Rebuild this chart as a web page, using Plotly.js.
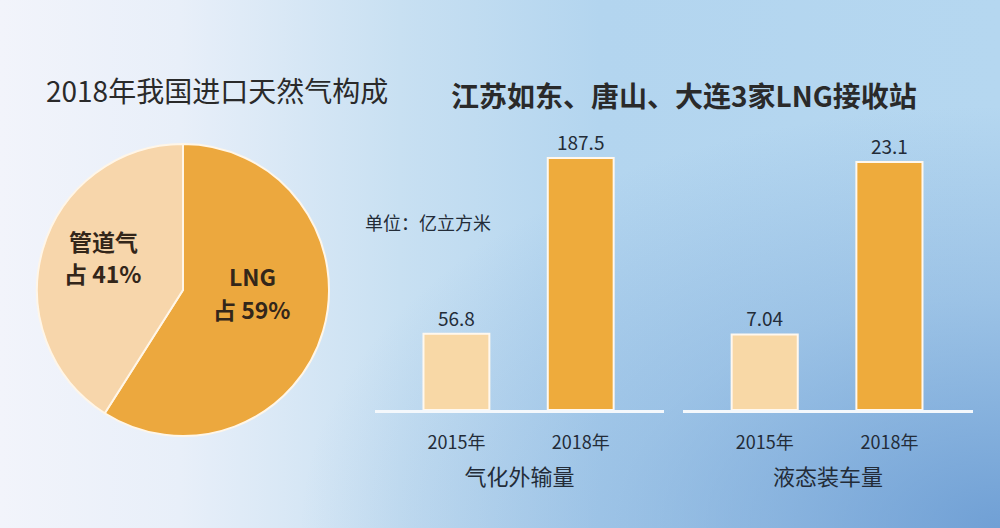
<!DOCTYPE html>
<html>
<head>
<meta charset="utf-8">
<script src="https://cdn.plot.ly/plotly-3.0.1.min.js"></script>
<style>
html,body{margin:0;padding:0;}
body{width:1000px;height:528px;overflow:hidden;
background:
 radial-gradient(ellipse 70% 80% at 100% 100%, rgba(100,150,208,0.85) 0%, rgba(110,158,212,0.35) 55%, rgba(120,165,215,0) 100%),
 linear-gradient(to right, #f2f4fb 0%, #e8eff9 18%, #c8e0f2 40%, #b3d5ef 60%, #b5d7f0 100%);}
#chart{width:1000px;height:528px;}
</style>
</head>
<body>
<div id="chart"></div>
<script>
const pieLabels = ["LNG", "管道气"];
const pieValues = [59, 41];
const pieColors = ["#eca83e", "#f7d6ab"];

const years = ["2015年", "2018年"];
const gasOut = [56.8, 187.5];       // 气化外输量
const liquidLoad = [7.04, 23.1];    // 液态装车量
const barColors = ["#f8d8a6", "#eeab3c"];

const groupTitles = ["气化外输量", "液态装车量"];

const font = "Noto Sans CJK SC, Noto Sans, sans-serif";
const txtColor = "#232c38";

const traces = [
  {
    type: "pie",
    labels: pieLabels,
    values: pieValues,
    sort: false,
    direction: "clockwise",
    rotation: 0,
    marker: {colors: pieColors, line: {color: "#fff6e8", width: 2}},
    textinfo: "none",
    textposition: "none",
    domain: {x: [0.037, 0.329], y: [1 - 437/528, 1 - 143/528]},
    showlegend: false,
    hoverinfo: "skip"
  },
  {
    type: "bar",
    x: years, y: gasOut,
    xaxis: "x", yaxis: "y",
    marker: {color: barColors, line: {color: "#fff8ee", width: 2}},
    width: 0.53,
    text: gasOut.map(String),
    textposition: "outside",
    textfont: {family: font, size: 19, color: txtColor},
    cliponaxis: false,
    showlegend: false,
    hoverinfo: "skip"
  },
  {
    type: "bar",
    x: years, y: liquidLoad,
    xaxis: "x2", yaxis: "y2",
    marker: {color: barColors, line: {color: "#fff8ee", width: 2}},
    width: 0.53,
    text: liquidLoad.map(String),
    textposition: "outside",
    textfont: {family: font, size: 19, color: txtColor},
    cliponaxis: false,
    showlegend: false,
    hoverinfo: "skip"
  }
];

const yDomain = [1 - 410/528, 1 - 100/528];
const xRange = [-0.655, 1.67];

// label centres (x, first-line y, second-line y) in pixels
const pieLabelPos = [[252, 276, 309], [103, 241, 273]];
const pieAnnotations = [];
pieLabels.forEach((l, i) => {
  const p = pieLabelPos[i];
  const f = {family: font, size: 23, color: "#33261a", weight: "bold"};
  pieAnnotations.push({text: l, xref: "paper", yref: "paper",
    x: p[0]/1000, y: 1 - p[1]/528, xanchor: "center", yanchor: "middle",
    showarrow: false, font: f});
  pieAnnotations.push({text: "占 " + pieValues[i] + "%", xref: "paper", yref: "paper",
    x: p[0]/1000, y: 1 - p[2]/528, xanchor: "center", yanchor: "middle",
    showarrow: false, font: f});
});

const layout = {
  width: 1000, height: 528,
  margin: {l: 0, r: 0, t: 0, b: 0},
  paper_bgcolor: "rgba(0,0,0,0)",
  plot_bgcolor: "rgba(0,0,0,0)",
  font: {family: font, color: txtColor},
  xaxis: {
    domain: [0.375, 0.664], range: xRange, type: "category",
    showgrid: false, zeroline: false,
    showline: true, linecolor: "#f4f8fc", linewidth: 3,
    ticks: "", tickfont: {family: font, size: 18, color: txtColor},
    ticklabelstandoff: 14,
    title: {text: groupTitles[0], font: {family: font, size: 22, color: txtColor}, standoff: 18}
  },
  yaxis: {
    domain: yDomain, range: [0, 187.5 * 310 / 252],
    visible: false
  },
  xaxis2: {
    domain: [0.683, 0.973], range: xRange, type: "category", anchor: "y2",
    showgrid: false, zeroline: false,
    showline: true, linecolor: "#f4f8fc", linewidth: 3,
    ticks: "", tickfont: {family: font, size: 18, color: txtColor},
    ticklabelstandoff: 14,
    title: {text: groupTitles[1], font: {family: font, size: 22, color: txtColor}, standoff: 18}
  },
  yaxis2: {
    domain: yDomain, range: [0, 23.1 * 310 / 248], anchor: "x2",
    visible: false
  },
  annotations: [
    {text: "2018年我国进口天然气构成", xref: "paper", yref: "paper",
     x: 44/1000, y: 1 - 90/528, xanchor: "left", yanchor: "middle", showarrow: false,
     font: {family: font, size: 28, color: "#2a2a2a"}},
    {text: "江苏如东、唐山、大连3家LNG接收站", xref: "paper", yref: "paper",
     x: 449/1000, y: 1 - 95/528, xanchor: "left", yanchor: "middle", showarrow: false,
     font: {family: font, size: 28, color: "#2a2a2a", weight: "bold"}},
    {text: "单位：亿立方米", xref: "paper", yref: "paper",
     x: 363/1000, y: 1 - 222/528, xanchor: "left", yanchor: "middle", showarrow: false,
     font: {family: font, size: 18, color: txtColor}}
  ].concat(pieAnnotations)
};

Plotly.newPlot("chart", traces, layout, {staticPlot: true, displayModeBar: false});
</script>
</body>
</html>
